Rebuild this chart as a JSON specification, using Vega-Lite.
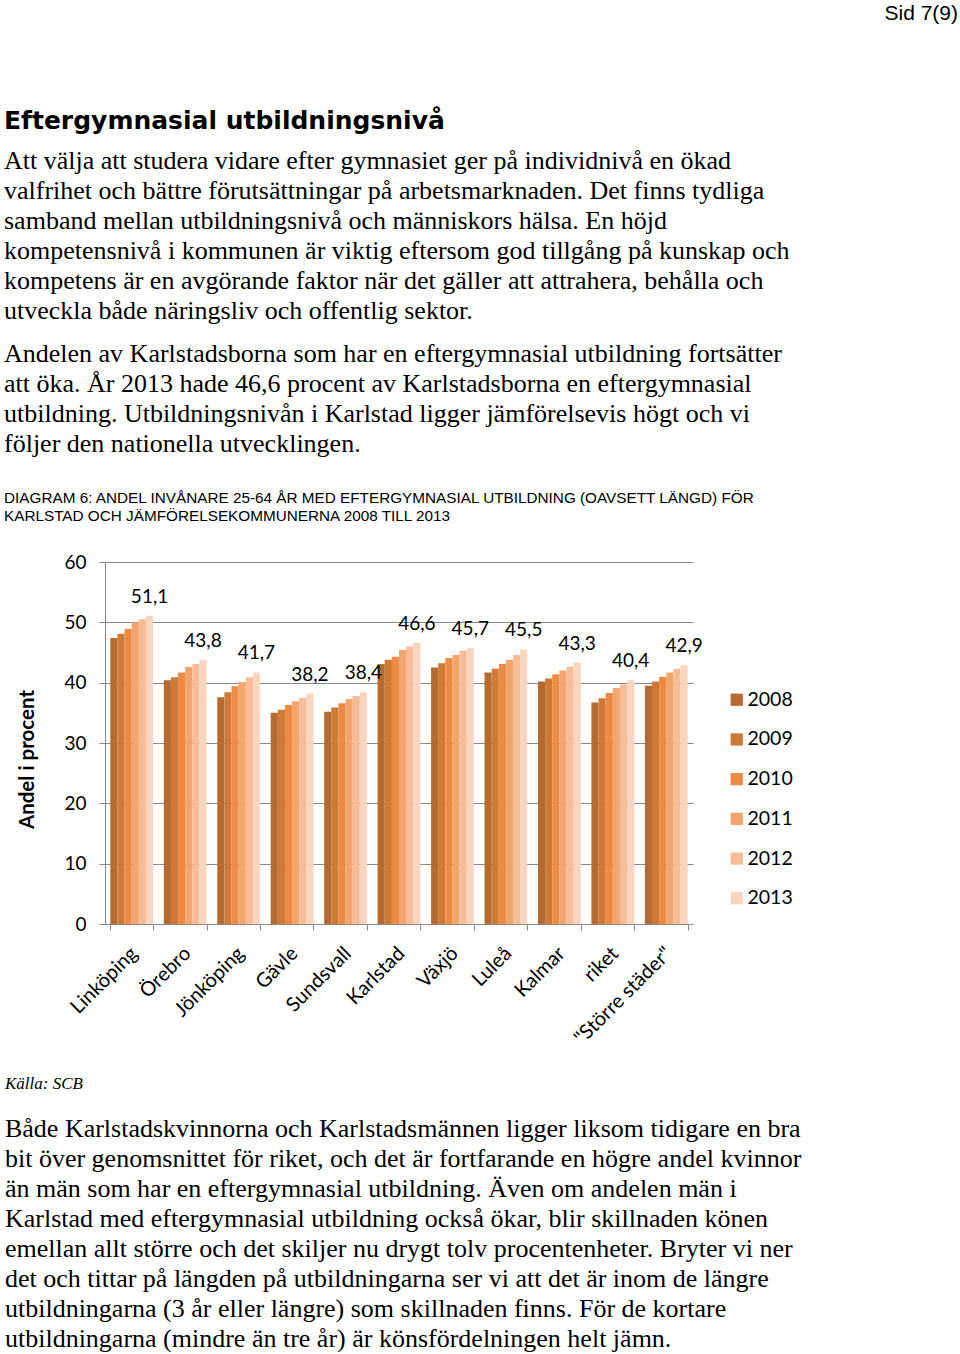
{
  "$schema": "https://vega.github.io/schema/vega-lite/v6.json",
  "background": "white",
  "padding": {"left": 4, "top": 3, "right": 0, "bottom": 0},
  "title": {"text": "Sid 7(9)", "anchor": "end", "frame": "bounds", "font": "Liberation Sans", "fontSize": 21, "fontWeight": "normal", "color": "#000000", "offset": 85},
  "spacing": 0,
  "config": {
    "view": {"stroke": null},
    "locale": {"number": {"decimal": ",", "thousands": " ", "grouping": [3], "currency": ["", " kr"]}}
  },
  "vconcat": [
    {
      "width": 853,
      "height": 16,
      "data": {"values": [{"t": ""}]},
      "mark": {"type": "text"},
      "encoding": {"text": {"field": "t", "type": "nominal"}},
      "title": {
        "text": "Eftergymnasial utbildningsnivå",
        "subtitle": [
          "Att välja att studera vidare efter gymnasiet ger på individnivå en ökad",
          "valfrihet och bättre förutsättningar på arbetsmarknaden. Det finns tydliga",
          "samband mellan utbildningsnivå och människors hälsa. En höjd",
          "kompetensnivå i kommunen är viktig eftersom god tillgång på kunskap och",
          "kompetens är en avgörande faktor när det gäller att attrahera, behålla och",
          "utveckla både näringsliv och offentlig sektor."
        ],
        "anchor": "start", "frame": "group", "offset": 0, "dx": -101,
        "font": "DejaVu Sans", "fontSize": 25, "fontWeight": "bold", "color": "#000000",
        "subtitleFont": "Liberation Serif", "subtitleFontSize": 26, "subtitleColor": "#000000",
        "subtitleLineHeight": 30, "subtitlePadding": 14
      }
    },
    {
      "width": 853,
      "height": 29,
      "data": {"values": [{"t": ""}]},
      "mark": {"type": "text"},
      "encoding": {"text": {"field": "t", "type": "nominal"}},
      "title": {
        "text": [
          "Andelen av Karlstadsborna som har en eftergymnasial utbildning fortsätter",
          "att öka. År 2013 hade 46,6 procent av Karlstadsborna en eftergymnasial",
          "utbildning. Utbildningsnivån i Karlstad ligger jämförelsevis högt och vi",
          "följer den nationella utvecklingen."
        ],
        "subtitle": [
          "DIAGRAM 6: ANDEL INVÅNARE 25-64 ÅR MED EFTERGYMNASIAL UTBILDNING (OAVSETT LÄNGD) FÖR",
          "KARLSTAD OCH JÄMFÖRELSEKOMMUNERNA 2008 TILL 2013"
        ],
        "anchor": "start", "frame": "group", "offset": 0, "dx": -101,
        "font": "Liberation Serif", "fontSize": 26, "fontWeight": "normal", "color": "#000000", "lineHeight": 30,
        "subtitleFont": "Liberation Sans", "subtitleFontSize": 15.3, "subtitleColor": "#000000",
        "subtitleLineHeight": 18, "subtitlePadding": 34
      }
    },
    {
      "width": 588,
      "height": 362,
      "data": {"values": [
        {"kommun": "Linköping", "year": "2008", "value": 47.4},
        {"kommun": "Linköping", "year": "2009", "value": 48.1},
        {"kommun": "Linköping", "year": "2010", "value": 48.9},
        {"kommun": "Linköping", "year": "2011", "value": 50.0},
        {"kommun": "Linköping", "year": "2012", "value": 50.5},
        {"kommun": "Linköping", "year": "2013", "value": 51.1},
        {"kommun": "Örebro", "year": "2008", "value": 40.4},
        {"kommun": "Örebro", "year": "2009", "value": 40.9},
        {"kommun": "Örebro", "year": "2010", "value": 41.7},
        {"kommun": "Örebro", "year": "2011", "value": 42.6},
        {"kommun": "Örebro", "year": "2012", "value": 43.1},
        {"kommun": "Örebro", "year": "2013", "value": 43.8},
        {"kommun": "Jönköping", "year": "2008", "value": 37.6},
        {"kommun": "Jönköping", "year": "2009", "value": 38.4},
        {"kommun": "Jönköping", "year": "2010", "value": 39.4},
        {"kommun": "Jönköping", "year": "2011", "value": 40.1},
        {"kommun": "Jönköping", "year": "2012", "value": 40.9},
        {"kommun": "Jönköping", "year": "2013", "value": 41.7},
        {"kommun": "Gävle", "year": "2008", "value": 35.0},
        {"kommun": "Gävle", "year": "2009", "value": 35.5},
        {"kommun": "Gävle", "year": "2010", "value": 36.3},
        {"kommun": "Gävle", "year": "2011", "value": 36.9},
        {"kommun": "Gävle", "year": "2012", "value": 37.5},
        {"kommun": "Gävle", "year": "2013", "value": 38.2},
        {"kommun": "Sundsvall", "year": "2008", "value": 35.2},
        {"kommun": "Sundsvall", "year": "2009", "value": 35.9},
        {"kommun": "Sundsvall", "year": "2010", "value": 36.6},
        {"kommun": "Sundsvall", "year": "2011", "value": 37.3},
        {"kommun": "Sundsvall", "year": "2012", "value": 37.8},
        {"kommun": "Sundsvall", "year": "2013", "value": 38.4},
        {"kommun": "Karlstad", "year": "2008", "value": 43.1},
        {"kommun": "Karlstad", "year": "2009", "value": 43.8},
        {"kommun": "Karlstad", "year": "2010", "value": 44.3},
        {"kommun": "Karlstad", "year": "2011", "value": 45.4},
        {"kommun": "Karlstad", "year": "2012", "value": 46.0},
        {"kommun": "Karlstad", "year": "2013", "value": 46.6},
        {"kommun": "Växjö", "year": "2008", "value": 42.5},
        {"kommun": "Växjö", "year": "2009", "value": 43.2},
        {"kommun": "Växjö", "year": "2010", "value": 44.1},
        {"kommun": "Växjö", "year": "2011", "value": 44.6},
        {"kommun": "Växjö", "year": "2012", "value": 45.3},
        {"kommun": "Växjö", "year": "2013", "value": 45.7},
        {"kommun": "Luleå", "year": "2008", "value": 41.7},
        {"kommun": "Luleå", "year": "2009", "value": 42.3},
        {"kommun": "Luleå", "year": "2010", "value": 43.1},
        {"kommun": "Luleå", "year": "2011", "value": 43.8},
        {"kommun": "Luleå", "year": "2012", "value": 44.6},
        {"kommun": "Luleå", "year": "2013", "value": 45.5},
        {"kommun": "Kalmar", "year": "2008", "value": 40.2},
        {"kommun": "Kalmar", "year": "2009", "value": 40.7},
        {"kommun": "Kalmar", "year": "2010", "value": 41.4},
        {"kommun": "Kalmar", "year": "2011", "value": 42.0},
        {"kommun": "Kalmar", "year": "2012", "value": 42.6},
        {"kommun": "Kalmar", "year": "2013", "value": 43.3},
        {"kommun": "riket", "year": "2008", "value": 36.7},
        {"kommun": "riket", "year": "2009", "value": 37.4},
        {"kommun": "riket", "year": "2010", "value": 38.3},
        {"kommun": "riket", "year": "2011", "value": 39.1},
        {"kommun": "riket", "year": "2012", "value": 39.7},
        {"kommun": "riket", "year": "2013", "value": 40.4},
        {"kommun": "\"Större städer\"", "year": "2008", "value": 39.5},
        {"kommun": "\"Större städer\"", "year": "2009", "value": 40.2},
        {"kommun": "\"Större städer\"", "year": "2010", "value": 41.0},
        {"kommun": "\"Större städer\"", "year": "2011", "value": 41.7},
        {"kommun": "\"Större städer\"", "year": "2012", "value": 42.3},
        {"kommun": "\"Större städer\"", "year": "2013", "value": 42.9}
      ]},
      "title": {
        "text": "Källa: SCB",
        "subtitle": [
          "Både Karlstadskvinnorna och Karlstadsmännen ligger liksom tidigare en bra",
          "bit över genomsnittet för riket, och det är fortfarande en högre andel kvinnor",
          "än män som har en eftergymnasial utbildning. Även om andelen män i",
          "Karlstad med eftergymnasial utbildning också ökar, blir skillnaden könen",
          "emellan allt större och det skiljer nu drygt tolv procentenheter. Bryter vi ner",
          "det och tittar på längden på utbildningarna ser vi att det är inom de längre",
          "utbildningarna (3 år eller längre) som skillnaden finns. För de kortare",
          "utbildningarna (mindre än tre år) är könsfördelningen helt jämn."
        ],
        "orient": "bottom", "anchor": "start", "frame": "bounds", "offset": 28, "dx": -13,
        "font": "Liberation Serif", "fontSize": 17, "fontStyle": "italic", "fontWeight": "normal", "color": "#000000",
        "subtitleFont": "Liberation Serif", "subtitleFontSize": 26, "subtitleColor": "#000000",
        "subtitleLineHeight": 30, "subtitlePadding": 23
      },
      "encoding": {
        "x": {
          "field": "kommun", "type": "nominal",
          "sort": ["Linköping", "Örebro", "Jönköping", "Gävle", "Sundsvall", "Karlstad", "Växjö", "Luleå", "Kalmar", "riket", "\"Större städer\""],
          "scale": {"paddingInner": 0.2, "paddingOuter": 0.1},
          "axis": {
            "title": null, "labelAngle": -45, "labelFont": "Lato", "labelFontSize": 20, "labelColor": "#000000",
            "tickBand": "extent", "tickSize": 6, "tickColor": "#888888", "domainColor": "#888888",
            "labelPadding": 13, "labelOffset": -5, "grid": false
          }
        },
        "xOffset": {"field": "year", "type": "nominal"},
        "y": {
          "field": "value", "type": "quantitative",
          "scale": {"domain": [0, 60]},
          "axis": {
            "title": "Andel i procent", "values": [0, 10, 20, 30, 40, 50, 60],
            "titleFont": "Lato", "titleFontSize": 20.5, "titleFontWeight": "bold", "titleColor": "#000000",
            "titlePadding": 26, "titleY": 197,
            "labelFont": "Lato", "labelFontSize": 19, "labelColor": "#000000", "labelPadding": 13,
            "tickSize": 6, "tickColor": "#888888", "domainColor": "#888888",
            "grid": true, "gridColor": "#888888", "gridOpacity": 1
          }
        }
      },
      "layer": [
        {
          "mark": {"type": "bar"},
          "encoding": {
            "color": {
              "field": "year", "type": "nominal",
              "scale": {"domain": ["2008", "2009", "2010", "2011", "2012", "2013"], "range": ["#B56A30", "#CE7936", "#EC8B43", "#F3A56E", "#F7BD98", "#FAD6C1"]},
              "legend": {
                "orient": "none", "legendX": 622, "legendY": 366, "direction": "vertical", "title": null,
                "labelFont": "Lato", "labelFontSize": 19.5, "labelColor": "#000000",
                "symbolType": "square", "symbolSize": 150, "symbolStrokeWidth": 0,
                "rowPadding": 18.7, "labelOffset": 1, "padding": 0
              }
            }
          }
        },
        {
          "transform": [{"filter": "datum.year == '2013'"}],
          "mark": {"type": "text", "font": "Lato", "fontSize": 19, "baseline": "alphabetic", "dy": -13, "color": "#000000"},
          "encoding": {"text": {"field": "value", "type": "quantitative", "format": ".1f"}}
        }
      ]
    }
  ]
}
